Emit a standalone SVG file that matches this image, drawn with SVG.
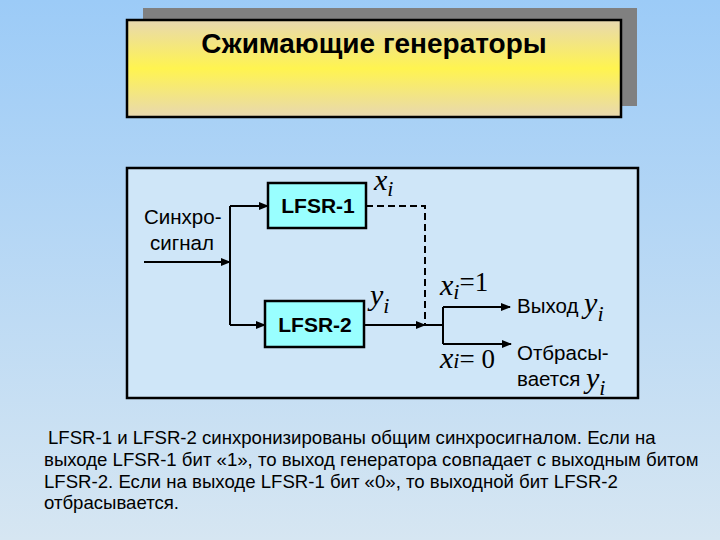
<svg xmlns="http://www.w3.org/2000/svg" width="720" height="540" viewBox="0 0 720 540">
<defs>
<linearGradient id="bg" x1="0" y1="0" x2="0" y2="1"><stop offset="0" stop-color="#9ccbf7"/><stop offset="1" stop-color="#d6e6f2"/></linearGradient>
<linearGradient id="tg" x1="0" y1="0" x2="0" y2="1"><stop offset="0" stop-color="#e8d8b0"/><stop offset="0.5" stop-color="#fff450"/><stop offset="1" stop-color="#e8d8b0"/></linearGradient>
<marker id="ar" markerWidth="10" markerHeight="8" refX="9" refY="4" orient="auto" markerUnits="userSpaceOnUse"><path d="M0,0 L10,4 L0,8 z" fill="#000"/></marker>
<style>
.s{font-family:"Liberation Sans",Arial,sans-serif;font-size:20.5px;fill:#000}
.b{font-family:"Liberation Sans",Arial,sans-serif;font-size:21px;font-weight:bold;fill:#000}
.m{font-family:"Liberation Serif","Times New Roman",serif;font-style:italic;font-size:30px;fill:#000}
.n{font-family:"Liberation Serif","Times New Roman",serif;font-style:normal;font-size:27px;fill:#000}
.sub{font-family:"Liberation Serif","Times New Roman",serif;font-style:italic;font-size:22px}
.t{font-family:"Liberation Sans",Arial,sans-serif;font-size:18.6px;fill:#000}
.box{fill:#99ffff;stroke:#000;stroke-width:2.5}
.ln{stroke:#000;stroke-width:2;fill:none}
</style>
</defs>
<rect width="720" height="540" fill="url(#bg)"/>
<g id="title">
<rect x="143" y="8" width="494" height="98" fill="#808080"/>
<rect x="127" y="20" width="494" height="97" fill="url(#tg)" stroke="#000" stroke-width="2.5"/>
<text x="374" y="53" text-anchor="middle" font-family="Liberation Sans,Arial,sans-serif" font-size="28" font-weight="bold">Сжимающие генераторы</text>
</g>
<g id="panel"><rect x="127" y="168" width="511" height="230" fill="#cfe6f8" stroke="#000" stroke-width="2.5"/></g>
<g id="connectors">
<path class="ln" d="M144,262 H230" stroke-width="1.2" marker-end="url(#ar)"/>
<path class="ln" d="M230,206 V325"/>
<path class="ln" d="M230,206 H268" marker-end="url(#ar)"/>
<path class="ln" d="M230,325 H265" marker-end="url(#ar)"/>
<path class="ln" d="M366,206 H425 V325" stroke-dasharray="7,4"/>
<path class="ln" d="M364,325 H425" marker-end="url(#ar)"/>
<path class="ln" d="M425,325 H443 M443,307 V344"/>
<path class="ln" d="M443,307 H510" marker-end="url(#ar)"/>
<path class="ln" d="M443,344 H511" marker-end="url(#ar)"/>
</g>
<g id="sync"><text class="s" x="144" y="224">Синхро-</text><text class="s" x="150" y="250">сигнал</text></g>
<g id="lfsr1"><rect class="box" x="268" y="183" width="98" height="45"/><text class="b" x="318" y="213" text-anchor="middle">LFSR-1</text></g>
<g id="lfsr2"><rect class="box" x="265" y="301" width="99" height="46"/><text class="b" x="315" y="332" text-anchor="middle">LFSR-2</text></g>
<text class="m" x="374" y="190">x<tspan class="sub" dy="6">i</tspan></text>
<text class="m" x="370" y="305">y<tspan class="sub" dy="8">i</tspan></text>
<text class="m" x="440" y="295">x<tspan class="sub" dy="4">i</tspan><tspan class="n" dy="-8">=1</tspan></text>
<text class="s" x="517" y="313">Выход <tspan class="m" dy="0">y</tspan><tspan class="sub" dy="8">i</tspan></text>
<text class="m" x="440" y="368">x<tspan class="sub">i</tspan><tspan class="n">= 0</tspan></text>
<text class="s" x="517" y="360">Отбрасы-</text>
<text class="s" x="517" y="386">вается <tspan class="m" font-size="27" dy="2">y</tspan><tspan class="sub" dy="7">i</tspan></text>
<g id="caption">
<text class="t" x="48" y="444">LFSR-1 и LFSR-2 синхронизированы общим синхросигналом.  Если на</text>
<text class="t" x="44" y="466">выходе LFSR-1 бит «1», то выход генератора совпадает с выходным битом</text>
<text class="t" x="44" y="488">LFSR-2.  Если на выходе LFSR-1 бит «0», то выходной бит LFSR-2</text>
<text class="t" x="44" y="509">отбрасывается.</text>
</g>
</svg>
